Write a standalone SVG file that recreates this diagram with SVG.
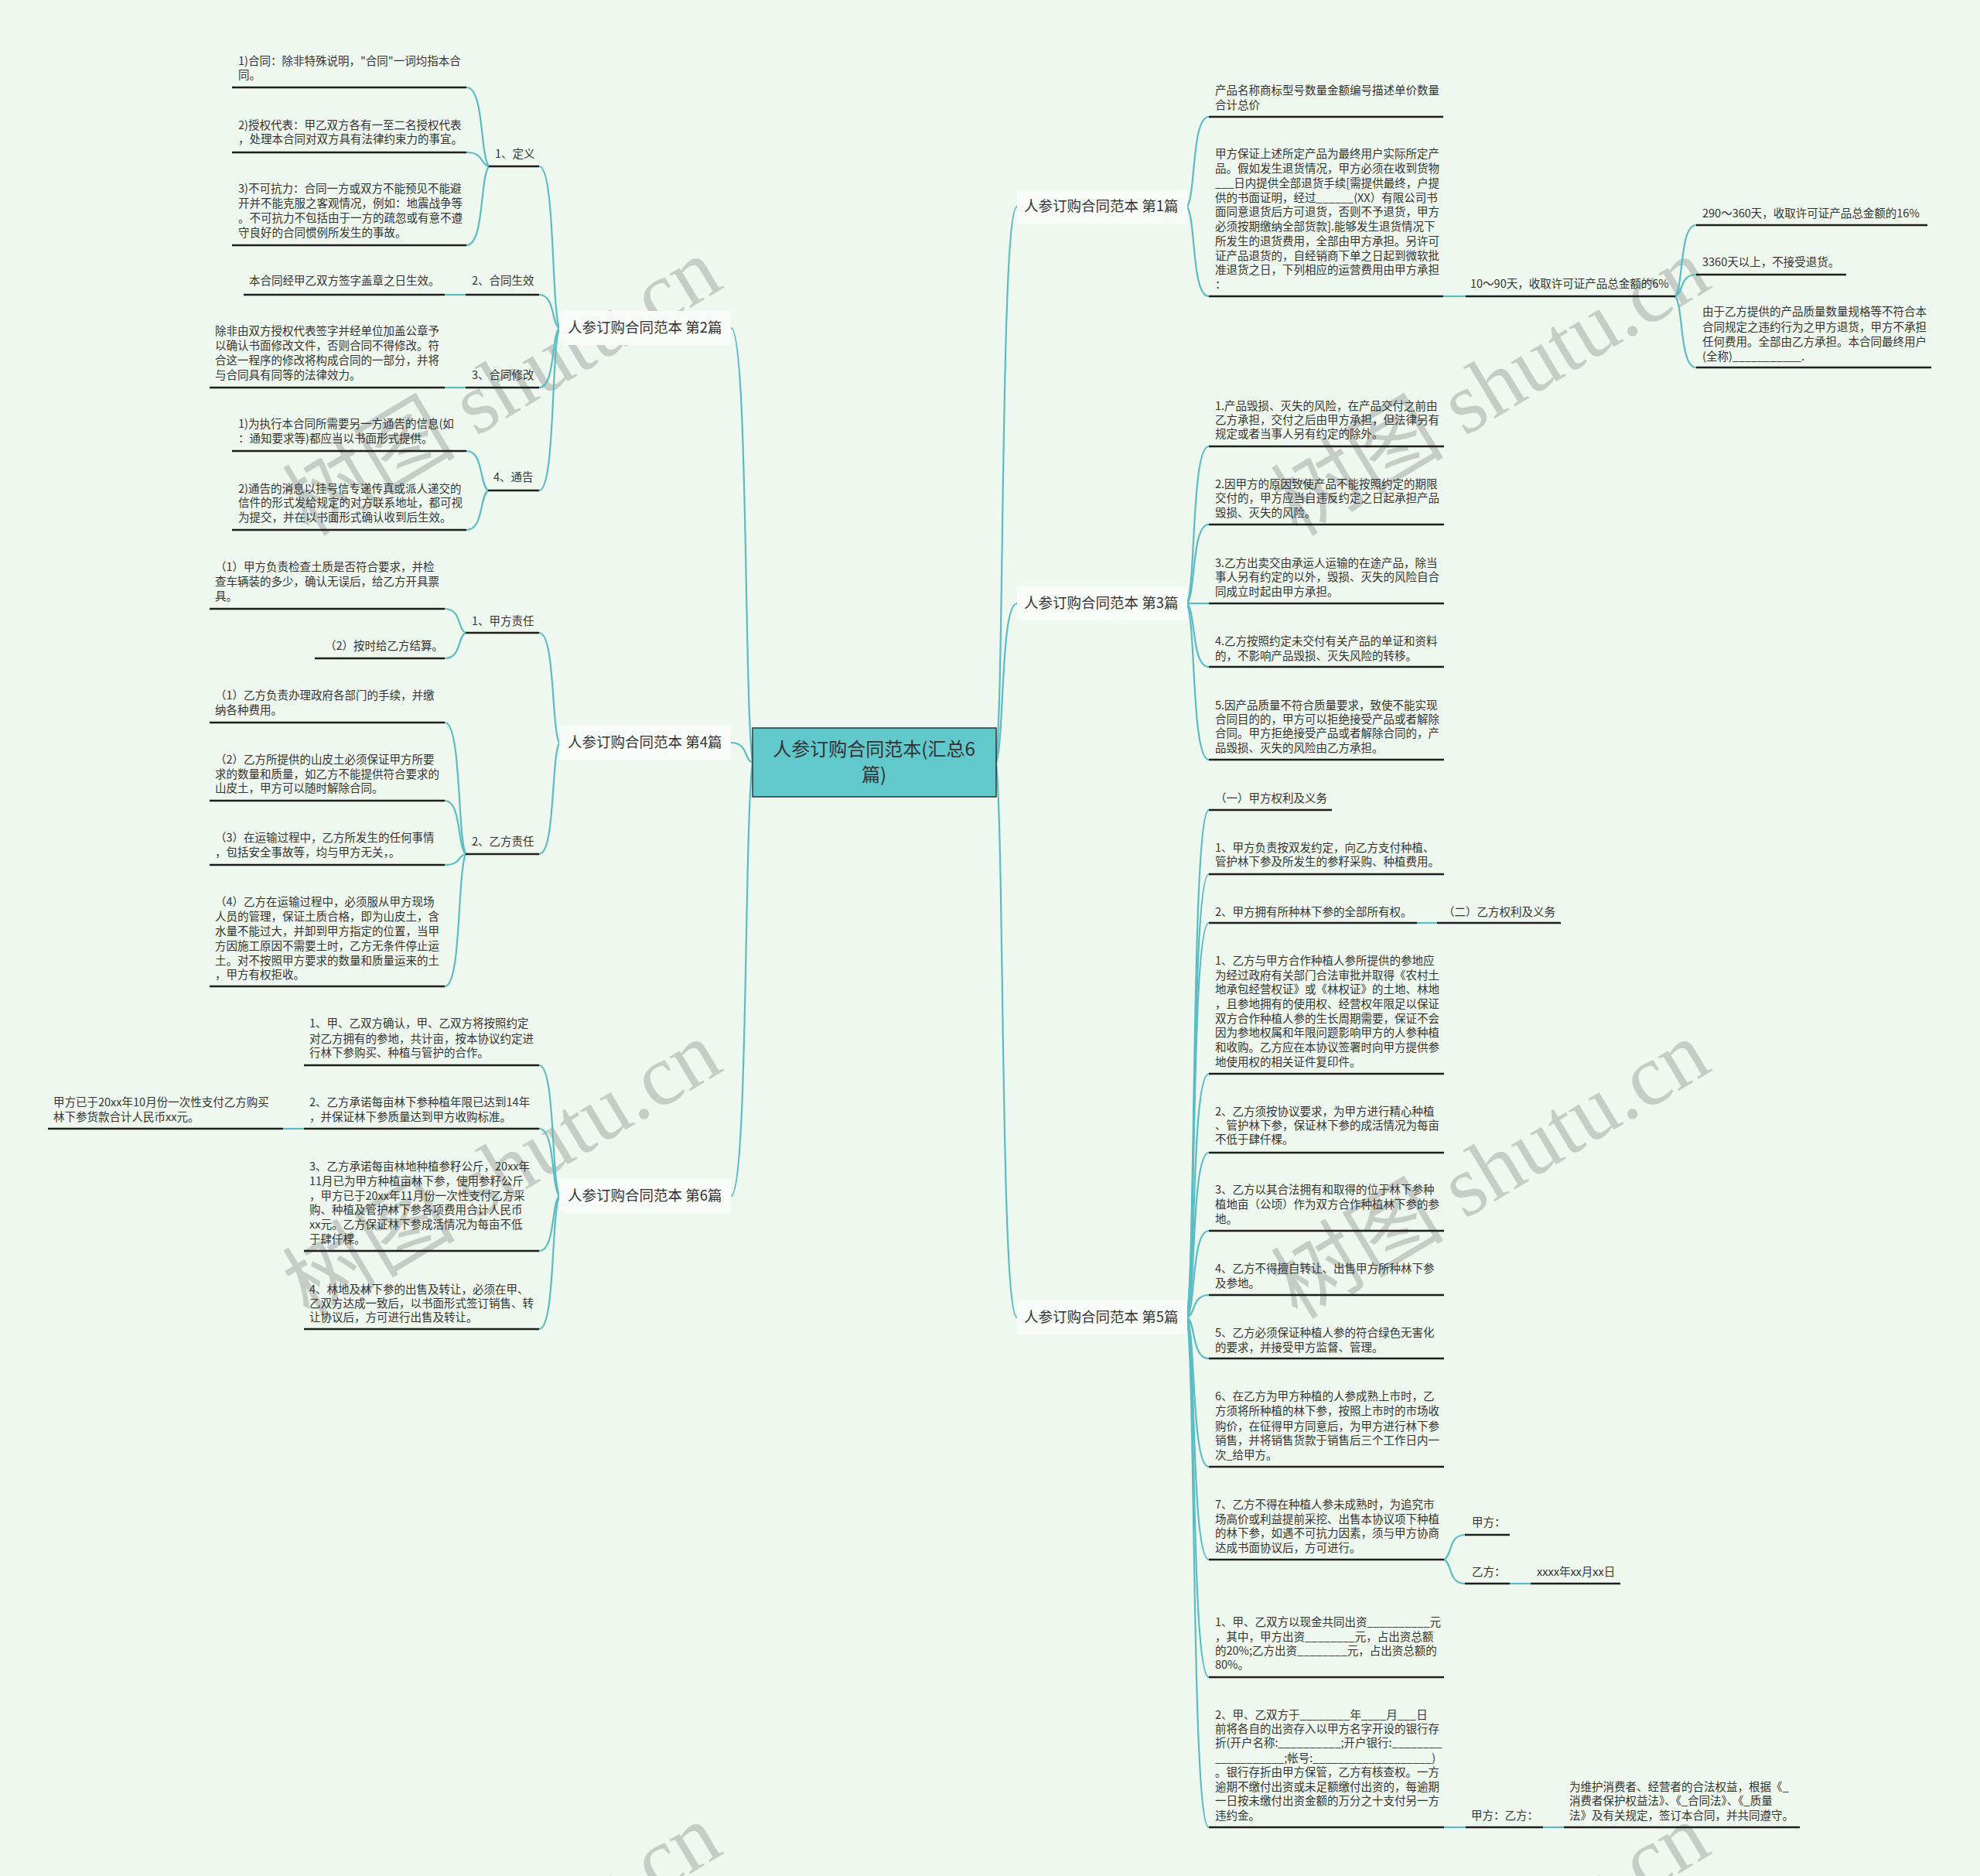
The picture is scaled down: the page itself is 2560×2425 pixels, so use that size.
<svg xmlns="http://www.w3.org/2000/svg" width="2560" height="2425" viewBox="0 0 2560 2425">
<style>
.t{font-family:"Noto Sans CJK SC","Noto Sans",sans-serif;font-size:14.5px;fill:#333}
.b{font-family:"Noto Sans CJK SC","Noto Sans",sans-serif;font-size:18.5px;fill:#333}
.m{font-family:"Noto Sans CJK SC","Noto Sans",sans-serif;font-size:24px;fill:#333;text-anchor:middle}
.u{stroke:#1e1e1e;stroke-width:2.5;fill:none}
.c{stroke:#5bbcc4;stroke-width:2.2;fill:none}
.box{fill:#f8fcf8}
.wm{font-family:"Liberation Serif","Noto Sans CJK SC",serif;font-size:112px;fill:#c6cdc6;text-anchor:middle;dominant-baseline:central}
</style>
<rect width="2560" height="2425" fill="#eff8ee"/>
<g id="watermarks">
<text class="wm" transform="translate(649,500) rotate(-31)">树图 shutu.cn</text>
<text class="wm" transform="translate(1927,500) rotate(-31)">树图 shutu.cn</text>
<text class="wm" transform="translate(649,1512) rotate(-31)">树图 shutu.cn</text>
<text class="wm" transform="translate(1927,1512) rotate(-31)">树图 shutu.cn</text>
<text class="wm" transform="translate(649,2524) rotate(-31)">树图 shutu.cn</text>
<text class="wm" transform="translate(1927,2524) rotate(-31)">树图 shutu.cn</text>
</g>
<g id="connectors">
<path class="c" d="M973,986 C961.8,901.7 967.4,424 945,424"/>
<path class="c" d="M973,986 C961.8,982.1 967.4,960 945,960"/>
<path class="c" d="M973,986 C961.8,1070 967.4,1546 945,1546"/>
<path class="c" d="M1288,986 C1298.8,878.2 1293.4,267 1315,267"/>
<path class="c" d="M1288,986 C1298.8,955.1 1293.4,780 1315,780"/>
<path class="c" d="M1288,986 C1298.8,1093.6 1293.4,1703 1315,1703"/>
<path class="c" d="M723,424 C712.6,392.6 717.8,215 697,215"/>
<path class="c" d="M723,424 C712.6,417.6 717.8,381 697,381"/>
<path class="c" d="M723,424 C712.6,435.6 717.8,501 697,501"/>
<path class="c" d="M723,424 C712.6,455.5 717.8,634 697,634"/>
<path class="c" d="M632,215 C620.4,199.7 626.2,113 603,113"/>
<path class="c" d="M632,215 C620.4,212.3 626.2,197 603,197"/>
<path class="c" d="M632,215 C620.4,230.3 626.2,317 603,317"/>
<path class="c" d="M602,381 L575,381"/>
<path class="c" d="M602,501 L575,501"/>
<path class="c" d="M631,634 C619.8,626.4 625.4,583 603,583"/>
<path class="c" d="M631,634 C619.8,641.6 625.4,685 603,685"/>
<path class="c" d="M723,960 C712.6,938.7 717.8,818 697,818"/>
<path class="c" d="M723,960 C712.6,981.6 717.8,1104 697,1104"/>
<path class="c" d="M602,818 C591.2,813.4 596.6,787 575,787"/>
<path class="c" d="M602,818 C591.2,823 596.6,851 575,851"/>
<path class="c" d="M602,1104 C591.2,1078.5 596.6,934 575,934"/>
<path class="c" d="M602,1104 C591.2,1093.7 596.6,1035 575,1035"/>
<path class="c" d="M602,1104 C591.2,1106.1 596.6,1118 575,1118"/>
<path class="c" d="M602,1104 C591.2,1129.7 596.6,1275 575,1275"/>
<path class="c" d="M723,1546 C712.6,1520.7 717.8,1377 697,1377"/>
<path class="c" d="M723,1546 C712.6,1533 717.8,1459 697,1459"/>
<path class="c" d="M723,1546 C712.6,1556.7 717.8,1617 697,1617"/>
<path class="c" d="M723,1546 C712.6,1571.8 717.8,1718 697,1718"/>
<path class="c" d="M393,1459 L366,1459"/>
<path class="c" d="M1535,267 C1546.2,249.6 1540.6,151 1563,151"/>
<path class="c" d="M1535,267 C1546.2,284.4 1540.6,383 1563,383"/>
<path class="c" d="M1866,383 L1895,383"/>
<path class="c" d="M2166,383 C2176.8,369.2 2171.4,291 2193,291"/>
<path class="c" d="M2166,383 C2176.8,378.8 2171.4,355 2193,355"/>
<path class="c" d="M2166,383 C2176.8,396.8 2171.4,475 2193,475"/>
<path class="c" d="M1535,780 C1546.2,749.6 1540.6,577 1563,577"/>
<path class="c" d="M1535,780 C1546.2,764.7 1540.6,678 1563,678"/>
<path class="c" d="M1535,780 L1563,780"/>
<path class="c" d="M1535,780 C1546.2,792.3 1540.6,862 1563,862"/>
<path class="c" d="M1535,780 C1546.2,810.3 1540.6,982 1563,982"/>
<path class="c" d="M1535,1703 C1546.2,1604.6 1540.6,1047 1563,1047"/>
<path class="c" d="M1535,1703 C1546.2,1617 1540.6,1130 1563,1130"/>
<path class="c" d="M1535,1703 C1546.2,1626.5 1540.6,1193 1563,1193"/>
<path class="c" d="M1535,1703 C1546.2,1655.8 1540.6,1388 1563,1388"/>
<path class="c" d="M1535,1703 C1546.2,1671 1540.6,1490 1563,1490"/>
<path class="c" d="M1535,1703 C1546.2,1686.2 1540.6,1591 1563,1591"/>
<path class="c" d="M1535,1703 C1546.2,1698.7 1540.6,1674 1563,1674"/>
<path class="c" d="M1535,1703 C1546.2,1711 1540.6,1756 1563,1756"/>
<path class="c" d="M1535,1703 C1546.2,1732 1540.6,1896 1563,1896"/>
<path class="c" d="M1535,1703 C1546.2,1750 1540.6,2016 1563,2016"/>
<path class="c" d="M1535,1703 C1546.2,1772.8 1540.6,2168 1563,2168"/>
<path class="c" d="M1535,1703 C1546.2,1801.9 1540.6,2362 1563,2362"/>
<path class="c" d="M1832,1193 L1858,1193"/>
<path class="c" d="M1867,2016 C1877.8,2011.2 1872.4,1984 1894,1984"/>
<path class="c" d="M1867,2016 C1877.8,2020.7 1872.4,2047 1894,2047"/>
<path class="c" d="M1952,2047 L1979,2047"/>
<path class="c" d="M1867,2362 L1895,2362"/>
<path class="c" d="M1995,2362 L2022,2362"/>
</g>
<g id="center">
<rect x="973" y="941" width="315" height="89" fill="#61c8cc" stroke="#333" stroke-width="1.5"/>
<text class="m" x="1130" y="977">人参订购合同范本(汇总6</text>
<text class="m" x="1130" y="1010">篇)</text>
</g>
<g id="branch2">
<rect class="box" x="723" y="402" width="222" height="44"/>
<text class="b" x="734" y="430">人参订购合同范本 第2篇</text>
</g>
<g id="b2-def">
<text class="t" x="640" y="204">1、定义</text>
<line class="u" x1="632" y1="215" x2="697" y2="215"/>
</g>
<g id="b2-def-1">
<text class="t"><tspan x="308" y="84">1)合同：除非特殊说明，"合同"一词均指本合</tspan><tspan x="308" y="102">同。</tspan></text>
<line class="u" x1="300" y1="113" x2="603" y2="113"/>
</g>
<g id="b2-def-2">
<text class="t"><tspan x="308" y="167">2)授权代表：甲乙双方各有一至二名授权代表</tspan><tspan x="308" y="185">，处理本合同对双方具有法律约束力的事宜。</tspan></text>
<line class="u" x1="300" y1="197" x2="603" y2="197"/>
</g>
<g id="b2-def-3">
<text class="t"><tspan x="308" y="249">3)不可抗力：合同一方或双方不能预见不能避</tspan><tspan x="308" y="268">开并不能克服之客观情况，例如：地震战争等</tspan><tspan x="308" y="287">。不可抗力不包括由于一方的疏忽或有意不遵</tspan><tspan x="308" y="306">守良好的合同惯例所发生的事故。</tspan></text>
<line class="u" x1="300" y1="317" x2="603" y2="317"/>
</g>
<g id="b2-eff">
<text class="t" x="610" y="368">2、合同生效</text>
<line class="u" x1="602" y1="381" x2="697" y2="381"/>
</g>
<g id="b2-eff-1">
<text class="t" x="322" y="368">本合同经甲乙双方签字盖章之日生效。</text>
<line class="u" x1="315" y1="381" x2="575" y2="381"/>
</g>
<g id="b2-mod">
<text class="t" x="610" y="490">3、合同修改</text>
<line class="u" x1="602" y1="501" x2="697" y2="501"/>
</g>
<g id="b2-mod-1">
<text class="t"><tspan x="278" y="433">除非由双方授权代表签字并经单位加盖公章予</tspan><tspan x="278" y="452">以确认书面修改文件，否则合同不得修改。符</tspan><tspan x="278" y="471">合这一程序的修改将构成合同的一部分，并将</tspan><tspan x="278" y="490">与合同具有同等的法律效力。</tspan></text>
<line class="u" x1="271" y1="501" x2="575" y2="501"/>
</g>
<g id="b2-not">
<text class="t" x="638" y="622">4、通告</text>
<line class="u" x1="631" y1="634" x2="697" y2="634"/>
</g>
<g id="b2-not-1">
<text class="t"><tspan x="308" y="553">1)为执行本合同所需要另一方通告的信息(如</tspan><tspan x="308" y="572">：通知要求等)都应当以书面形式提供。</tspan></text>
<line class="u" x1="300" y1="583" x2="603" y2="583"/>
</g>
<g id="b2-not-2">
<text class="t"><tspan x="308" y="637">2)通告的消息以挂号信专递传真或派人递交的</tspan><tspan x="308" y="655">信件的形式发给规定的对方联系地址，都可视</tspan><tspan x="308" y="674">为提交，并在以书面形式确认收到后生效。</tspan></text>
<line class="u" x1="300" y1="685" x2="603" y2="685"/>
</g>
<g id="branch4">
<rect class="box" x="723" y="938" width="222" height="44"/>
<text class="b" x="734" y="966">人参订购合同范本 第4篇</text>
</g>
<g id="b4-a">
<text class="t" x="610" y="808">1、甲方责任</text>
<line class="u" x1="602" y1="818" x2="697" y2="818"/>
</g>
<g id="b4-a-1">
<text class="t"><tspan x="278" y="738">（1）甲方负责检查土质是否符合要求，并检</tspan><tspan x="278" y="757">查车辆装的多少，确认无误后，给乙方开具票</tspan><tspan x="278" y="776">具。</tspan></text>
<line class="u" x1="271" y1="787" x2="575" y2="787"/>
</g>
<g id="b4-a-2">
<text class="t" x="420" y="840">（2）按时给乙方结算。</text>
<line class="u" x1="407" y1="851" x2="575" y2="851"/>
</g>
<g id="b4-b">
<text class="t" x="610" y="1093">2、乙方责任</text>
<line class="u" x1="602" y1="1104" x2="697" y2="1104"/>
</g>
<g id="b4-b-1">
<text class="t"><tspan x="278" y="904">（1）乙方负责办理政府各部门的手续，并缴</tspan><tspan x="278" y="923">纳各种费用。</tspan></text>
<line class="u" x1="271" y1="934" x2="575" y2="934"/>
</g>
<g id="b4-b-2">
<text class="t"><tspan x="278" y="987">（2）乙方所提供的山皮土必须保证甲方所要</tspan><tspan x="278" y="1006">求的数量和质量，如乙方不能提供符合要求的</tspan><tspan x="278" y="1024">山皮土，甲方可以随时解除合同。</tspan></text>
<line class="u" x1="271" y1="1035" x2="575" y2="1035"/>
</g>
<g id="b4-b-3">
<text class="t"><tspan x="278" y="1088">（3）在运输过程中，乙方所发生的任何事情</tspan><tspan x="278" y="1107">，包括安全事故等，均与甲方无关，。</tspan></text>
<line class="u" x1="271" y1="1118" x2="575" y2="1118"/>
</g>
<g id="b4-b-4">
<text class="t"><tspan x="278" y="1171">（4）乙方在运输过程中，必须服从甲方现场</tspan><tspan x="278" y="1190">人员的管理，保证土质合格，即为山皮土，含</tspan><tspan x="278" y="1209">水量不能过大，并卸到甲方指定的位置，当甲</tspan><tspan x="278" y="1228">方因施工原因不需要土时，乙方无条件停止运</tspan><tspan x="278" y="1247">土。对不按照甲方要求的数量和质量运来的土</tspan><tspan x="278" y="1265">，甲方有权拒收。</tspan></text>
<line class="u" x1="271" y1="1275" x2="575" y2="1275"/>
</g>
<g id="branch6">
<rect class="box" x="723" y="1524" width="222" height="44"/>
<text class="b" x="734" y="1552">人参订购合同范本 第6篇</text>
</g>
<g id="b6-1">
<text class="t"><tspan x="400" y="1328">1、甲、乙双方确认，甲、乙双方将按照约定</tspan><tspan x="400" y="1348">对乙方拥有的参地，共计亩，按本协议约定进</tspan><tspan x="400" y="1366">行林下参购买、种植与管护的合作。</tspan></text>
<line class="u" x1="393" y1="1377" x2="697" y2="1377"/>
</g>
<g id="b6-2">
<text class="t"><tspan x="400" y="1430">2、乙方承诺每亩林下参种植年限已达到14年</tspan><tspan x="400" y="1449">，并保证林下参质量达到甲方收购标准。</tspan></text>
<line class="u" x1="393" y1="1459" x2="697" y2="1459"/>
</g>
<g id="b6-2-1">
<text class="t"><tspan x="69" y="1430">甲方已于20xx年10月份一次性支付乙方购买</tspan><tspan x="69" y="1449">林下参货款合计人民币xx元。</tspan></text>
<line class="u" x1="62" y1="1459" x2="366" y2="1459"/>
</g>
<g id="b6-3">
<text class="t"><tspan x="400" y="1513">3、乙方承诺每亩林地种植参籽公斤，20xx年</tspan><tspan x="400" y="1532">11月已为甲方种植亩林下参，使用参籽公斤</tspan><tspan x="400" y="1551">，甲方已于20xx年11月份一次性支付乙方采</tspan><tspan x="400" y="1569">购、种植及管护林下参各项费用合计人民币</tspan><tspan x="400" y="1588">xx元。乙方保证林下参成活情况为每亩不低</tspan><tspan x="400" y="1607">于肆仟棵。</tspan></text>
<line class="u" x1="393" y1="1617" x2="697" y2="1617"/>
</g>
<g id="b6-4">
<text class="t"><tspan x="400" y="1672">4、林地及林下参的出售及转让，必须在甲、</tspan><tspan x="400" y="1690">乙双方达成一致后，以书面形式签订销售、转</tspan><tspan x="400" y="1708">让协议后，方可进行出售及转让。</tspan></text>
<line class="u" x1="393" y1="1718" x2="697" y2="1718"/>
</g>
<g id="branch1">
<rect class="box" x="1315" y="245" width="220" height="44"/>
<text class="b" x="1324" y="273">人参订购合同范本 第1篇</text>
</g>
<g id="b1-1">
<text class="t"><tspan x="1571" y="122">产品名称商标型号数量金额编号描述单价数量</tspan><tspan x="1571" y="141">合计总价</tspan></text>
<line class="u" x1="1563" y1="151" x2="1866" y2="151"/>
</g>
<g id="b1-2">
<text class="t"><tspan x="1571" y="204">甲方保证上述所定产品为最终用户实际所定产</tspan><tspan x="1571" y="223">品。假如发生退货情况，甲方必须在收到货物</tspan><tspan x="1571" y="242">___日内提供全部退货手续[需提供最终，户提</tspan><tspan x="1571" y="261">供的书面证明，经过______(XX）有限公司书</tspan><tspan x="1571" y="279">面同意退货后方可退货，否则不予退货，甲方</tspan><tspan x="1571" y="298">必须按期缴纳全部货款].能够发生退货情况下</tspan><tspan x="1571" y="317">所发生的退货费用，全部由甲方承担。另许可</tspan><tspan x="1571" y="336">证产品退货的，自经销商下单之日起到微软批</tspan><tspan x="1571" y="354">准退货之日，下列相应的运营费用由甲方承担</tspan><tspan x="1571" y="373">：</tspan></text>
<line class="u" x1="1563" y1="383" x2="1866" y2="383"/>
</g>
<g id="b1-2-1">
<text class="t" x="1901" y="372">10～90天，收取许可证产品总金额的6%</text>
<line class="u" x1="1895" y1="383" x2="2166" y2="383"/>
</g>
<g id="b1-2-1-1">
<text class="t" x="2201" y="281">290～360天，收取许可证产品总金额的16%</text>
<line class="u" x1="2193" y1="291" x2="2492" y2="291"/>
</g>
<g id="b1-2-1-2">
<text class="t" x="2201" y="344">3360天以上，不接受退货。</text>
<line class="u" x1="2193" y1="355" x2="2387" y2="355"/>
</g>
<g id="b1-2-1-3">
<text class="t"><tspan x="2201" y="408">由于乙方提供的产品质量数量规格等不符合本</tspan><tspan x="2201" y="428">合同规定之违约行为之甲方退货，甲方不承担</tspan><tspan x="2201" y="447">任何费用。全部由乙方承担。本合同最终用户</tspan><tspan x="2201" y="466">(全称)___________.</tspan></text>
<line class="u" x1="2193" y1="475" x2="2497" y2="475"/>
</g>
<g id="branch3">
<rect class="box" x="1315" y="758" width="220" height="44"/>
<text class="b" x="1324" y="786">人参订购合同范本 第3篇</text>
</g>
<g id="b3-1">
<text class="t"><tspan x="1571" y="530">1.产品毁损、灭失的风险，在产品交付之前由</tspan><tspan x="1571" y="548">乙方承担，交付之后由甲方承担，但法律另有</tspan><tspan x="1571" y="566">规定或者当事人另有约定的除外。</tspan></text>
<line class="u" x1="1563" y1="577" x2="1867" y2="577"/>
</g>
<g id="b3-2">
<text class="t"><tspan x="1571" y="631">2.因甲方的原因致使产品不能按照约定的期限</tspan><tspan x="1571" y="649">交付的，甲方应当自违反约定之日起承担产品</tspan><tspan x="1571" y="668">毁损、灭失的风险。</tspan></text>
<line class="u" x1="1563" y1="678" x2="1867" y2="678"/>
</g>
<g id="b3-3">
<text class="t"><tspan x="1571" y="733">3.乙方出卖交由承运人运输的在途产品，除当</tspan><tspan x="1571" y="751">事人另有约定的以外，毁损、灭失的风险自合</tspan><tspan x="1571" y="770">同成立时起由甲方承担。</tspan></text>
<line class="u" x1="1563" y1="780" x2="1867" y2="780"/>
</g>
<g id="b3-4">
<text class="t"><tspan x="1571" y="834">4.乙方按照约定未交付有关产品的单证和资料</tspan><tspan x="1571" y="853">的，不影响产品毁损、灭失风险的转移。</tspan></text>
<line class="u" x1="1563" y1="862" x2="1867" y2="862"/>
</g>
<g id="b3-5">
<text class="t"><tspan x="1571" y="917">5.因产品质量不符合质量要求，致使不能实现</tspan><tspan x="1571" y="935">合同目的的，甲方可以拒绝接受产品或者解除</tspan><tspan x="1571" y="953">合同。甲方拒绝接受产品或者解除合同的，产</tspan><tspan x="1571" y="972">品毁损、灭失的风险由乙方承担。</tspan></text>
<line class="u" x1="1563" y1="982" x2="1867" y2="982"/>
</g>
<g id="branch5">
<rect class="box" x="1315" y="1681" width="220" height="44"/>
<text class="b" x="1324" y="1709">人参订购合同范本 第5篇</text>
</g>
<g id="b5-1">
<text class="t" x="1571" y="1037">（一）甲方权利及义务</text>
<line class="u" x1="1563" y1="1047" x2="1722" y2="1047"/>
</g>
<g id="b5-2">
<text class="t"><tspan x="1571" y="1101">1、甲方负责按双发约定，向乙方支付种植、</tspan><tspan x="1571" y="1119">管护林下参及所发生的参籽采购、种植费用。</tspan></text>
<line class="u" x1="1563" y1="1130" x2="1867" y2="1130"/>
</g>
<g id="b5-3">
<text class="t" x="1571" y="1184">2、甲方拥有所种林下参的全部所有权。</text>
<line class="u" x1="1563" y1="1193" x2="1832" y2="1193"/>
</g>
<g id="b5-3-1">
<text class="t" x="1866" y="1184">（二）乙方权利及义务</text>
<line class="u" x1="1858" y1="1193" x2="2018" y2="1193"/>
</g>
<g id="b5-4">
<text class="t"><tspan x="1571" y="1247">1、乙方与甲方合作种植人参所提供的参地应</tspan><tspan x="1571" y="1266">为经过政府有关部门合法审批并取得《农村土</tspan><tspan x="1571" y="1284">地承包经营权证》或《林权证》的土地、林地</tspan><tspan x="1571" y="1303">，且参地拥有的使用权、经营权年限足以保证</tspan><tspan x="1571" y="1322">双方合作种植人参的生长周期需要，保证不会</tspan><tspan x="1571" y="1340">因为参地权属和年限问题影响甲方的人参种植</tspan><tspan x="1571" y="1359">和收购。乙方应在本协议签署时向甲方提供参</tspan><tspan x="1571" y="1378">地使用权的相关证件复印件。</tspan></text>
<line class="u" x1="1563" y1="1388" x2="1867" y2="1388"/>
</g>
<g id="b5-5">
<text class="t"><tspan x="1571" y="1442">2、乙方须按协议要求，为甲方进行精心种植</tspan><tspan x="1571" y="1460">、管护林下参，保证林下参的成活情况为每亩</tspan><tspan x="1571" y="1478">不低于肆仟棵。</tspan></text>
<line class="u" x1="1563" y1="1490" x2="1867" y2="1490"/>
</g>
<g id="b5-6">
<text class="t"><tspan x="1571" y="1543">3、乙方以其合法拥有和取得的位于林下参种</tspan><tspan x="1571" y="1562">植地亩（公顷）作为双方合作种植林下参的参</tspan><tspan x="1571" y="1581">地。</tspan></text>
<line class="u" x1="1563" y1="1591" x2="1867" y2="1591"/>
</g>
<g id="b5-7">
<text class="t"><tspan x="1571" y="1645">4、乙方不得擅自转让、出售甲方所种林下参</tspan><tspan x="1571" y="1664">及参地。</tspan></text>
<line class="u" x1="1563" y1="1674" x2="1867" y2="1674"/>
</g>
<g id="b5-8">
<text class="t"><tspan x="1571" y="1728">5、乙方必须保证种植人参的符合绿色无害化</tspan><tspan x="1571" y="1747">的要求，并接受甲方监督、管理。</tspan></text>
<line class="u" x1="1563" y1="1756" x2="1867" y2="1756"/>
</g>
<g id="b5-9">
<text class="t"><tspan x="1571" y="1810">6、在乙方为甲方种植的人参成熟上市时，乙</tspan><tspan x="1571" y="1829">方须将所种植的林下参，按照上市时的市场收</tspan><tspan x="1571" y="1849">购价，在征得甲方同意后，为甲方进行林下参</tspan><tspan x="1571" y="1867">销售，并将销售货款于销售后三个工作日内一</tspan><tspan x="1571" y="1886">次_给甲方。</tspan></text>
<line class="u" x1="1563" y1="1896" x2="1867" y2="1896"/>
</g>
<g id="b5-10">
<text class="t"><tspan x="1571" y="1950">7、乙方不得在种植人参未成熟时，为追究市</tspan><tspan x="1571" y="1969">场高价或利益提前采挖、出售本协议项下种植</tspan><tspan x="1571" y="1987">的林下参，如遇不可抗力因素，须与甲方协商</tspan><tspan x="1571" y="2006">达成书面协议后，方可进行。</tspan></text>
<line class="u" x1="1563" y1="2016" x2="1867" y2="2016"/>
</g>
<g id="b5-10-1">
<text class="t" x="1903" y="1973">甲方：</text>
<line class="u" x1="1894" y1="1984" x2="1952" y2="1984"/>
</g>
<g id="b5-10-2">
<text class="t" x="1903" y="2037">乙方：</text>
<line class="u" x1="1894" y1="2047" x2="1952" y2="2047"/>
</g>
<g id="b5-10-2-1">
<text class="t" x="1987" y="2037">xxxx年xx月xx日</text>
<line class="u" x1="1979" y1="2047" x2="2095" y2="2047"/>
</g>
<g id="b5-11">
<text class="t"><tspan x="1571" y="2102">1、甲、乙双方以现金共同出资__________元</tspan><tspan x="1571" y="2121">，其中，甲方出资________元，占出资总额</tspan><tspan x="1571" y="2139">的20%;乙方出资________元，占出资总额的</tspan><tspan x="1571" y="2157">80%。</tspan></text>
<line class="u" x1="1563" y1="2168" x2="1867" y2="2168"/>
</g>
<g id="b5-12">
<text class="t"><tspan x="1571" y="2222">2、甲、乙双方于________年____月___日</tspan><tspan x="1571" y="2240">前将各自的出资存入以甲方名字开设的银行存</tspan><tspan x="1571" y="2258">折(开户名称:__________;开户银行:________</tspan><tspan x="1571" y="2278">___________;帐号:___________________)</tspan><tspan x="1571" y="2296">。银行存折由甲方保管，乙方有核查权。一方</tspan><tspan x="1571" y="2315">逾期不缴付出资或未足额缴付出资的，每逾期</tspan><tspan x="1571" y="2333">一日按未缴付出资金额的万分之十支付另一方</tspan><tspan x="1571" y="2352">违约金。</tspan></text>
<line class="u" x1="1563" y1="2362" x2="1867" y2="2362"/>
</g>
<g id="b5-12-1">
<text class="t" x="1902" y="2352">甲方：乙方：</text>
<line class="u" x1="1895" y1="2362" x2="1995" y2="2362"/>
</g>
<g id="b5-12-1-1">
<text class="t"><tspan x="2029" y="2315">为维护消费者、经营者的合法权益，根据《_</tspan><tspan x="2029" y="2333">消费者保护权益法》、《_合同法》、《_质量</tspan><tspan x="2029" y="2352">法》及有关规定，签订本合同，并共同遵守。</tspan></text>
<line class="u" x1="2022" y1="2362" x2="2327" y2="2362"/>
</g>
</svg>
